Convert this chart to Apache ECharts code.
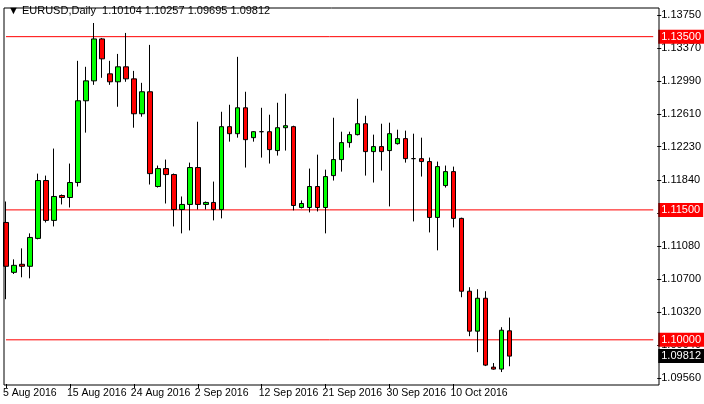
<!DOCTYPE html>
<html><head><meta charset="utf-8">
<script src="https://cdn.jsdelivr.net/npm/echarts@6/dist/echarts.min.js"></script>
<style>html,body{margin:0;padding:0;background:#fff}#c{width:704px;height:404px}</style>
</head><body><div id="c"></div>
<script>
const dates = ['5 Aug 2016','7 Aug','8 Aug','9 Aug','10 Aug','11 Aug','12 Aug','14 Aug',
'15 Aug 2016','16 Aug','17 Aug','18 Aug','19 Aug','21 Aug','22 Aug','23 Aug',
'24 Aug 2016','25 Aug','26 Aug','28 Aug','29 Aug','30 Aug','31 Aug','1 Sep',
'2 Sep 2016','4 Sep','5 Sep','6 Sep','7 Sep','8 Sep','9 Sep','11 Sep',
'12 Sep 2016','13 Sep','14 Sep','15 Sep','16 Sep','18 Sep','19 Sep','20 Sep',
'21 Sep 2016','22 Sep','23 Sep','25 Sep','26 Sep','27 Sep','28 Sep','29 Sep',
'30 Sep 2016','2 Oct','3 Oct','4 Oct','5 Oct','6 Oct','7 Oct','9 Oct',
'10 Oct 2016','11 Oct','12 Oct','13 Oct','14 Oct','16 Oct','17 Oct','18 Oct'];
const labelIdx = [0,8,16,24,32,40,48,56];
// [open, close, low, high]
const ohlc = [
[1.11355,1.10849,1.10469,1.11597],[1.10779,1.10860,1.10760,1.10929],[1.10872,1.10849,1.10722,1.11056],[1.10849,1.11182,1.10710,1.11229],
[1.11171,1.11839,1.11160,1.11919],[1.11839,1.11379,1.11355,1.11896],[1.11379,1.11655,1.11309,1.12208],[1.11666,1.11643,1.11563,1.11678],
[1.11643,1.11816,1.11528,1.12035],[1.11816,1.12760,1.11770,1.13221],[1.12760,1.12990,1.12392,1.13152],[1.12990,1.13474,1.12944,1.13658],
[1.13474,1.13244,1.13025,1.13485],[1.13071,1.12979,1.12944,1.13221],[1.12979,1.13152,1.12691,1.13301],[1.13152,1.13013,1.12979,1.13543],
[1.13013,1.12610,1.12449,1.13105],[1.12610,1.12864,1.12576,1.12967],[1.12864,1.11919,1.11793,1.13405],[1.11770,1.11977,1.11758,1.12012],
[1.11977,1.11908,1.11574,1.12081],[1.11908,1.11505,1.11309,1.11920],[1.11505,1.11563,1.11229,1.11655],[1.11563,1.11989,1.11263,1.12046],
[1.11989,1.11563,1.11505,1.12518],[1.11563,1.11586,1.11505,1.11597],[1.11586,1.11505,1.11379,1.11827],[1.11505,1.12461,1.11402,1.12633],
[1.12461,1.12380,1.12288,1.12714],[1.12380,1.12679,1.12334,1.13267],[1.12679,1.12311,1.11989,1.12864],[1.12334,1.12403,1.12288,1.12410],
[1.12403,1.12403,1.12104,1.12679],[1.12403,1.12196,1.12035,1.12599],[1.12185,1.12449,1.12127,1.12737],[1.12449,1.12472,1.12185,1.12841],
[1.12461,1.11551,1.11494,1.12472],[1.11528,1.11574,1.11517,1.11609],[1.11528,1.11770,1.11471,1.11977],[1.11770,1.11528,1.11482,1.12138],
[1.11528,1.11885,1.11229,1.11965],[1.11896,1.12081,1.11839,1.12564],[1.12081,1.12277,1.11942,1.12403],[1.12277,1.12369,1.12219,1.12403],
[1.12369,1.12495,1.12360,1.12783],[1.12495,1.12173,1.11896,1.12587],[1.12173,1.12231,1.11816,1.12369],[1.12231,1.12173,1.11954,1.12495],
[1.12185,1.12380,1.11540,1.12507],[1.12265,1.12323,1.12254,1.12426],[1.12323,1.12092,1.12046,1.12415],[1.12092,1.12092,1.11367,1.12380],
[1.12092,1.12058,1.11885,1.12334],[1.12058,1.11413,1.11240,1.12104],[1.11413,1.12000,1.11033,1.12058],[1.11781,1.11942,1.11758,1.12012],
[1.11942,1.11402,1.11298,1.12000],[1.11402,1.10561,1.10492,1.11410],[1.10561,1.10100,1.10042,1.10607],[1.10100,1.10480,1.09858,1.10584],
[1.10480,1.09708,1.09697,1.10561],[1.09685,1.09662,1.09655,1.09732],[1.09662,1.10111,1.09628,1.10146],[1.10104,1.09812,1.09695,1.10257]];
const yTicks = [1.09560,1.09940,1.10320,1.10700,1.11080,1.11460,1.11840,1.12230,1.12610,1.12990,1.13370,1.13750];
const levels = [1.13500,1.11500,1.10000];
const lastPrice = 1.09812;
const title = '\u25BC EURUSD,Daily  1.10104 1.10257 1.09695 1.09812';

const cats = dates.slice();
while (cats.length < 82) cats.push('');
const font = '"Liberation Sans", Arial, sans-serif';
const lastIdx = cats.length - 1;
function hLine(v, lineColor, bg, op) {
  return {type:'line',data:[[0,v],[lastIdx,v]],symbol:'none',silent:true,z:3,
    lineStyle:{color:lineColor,width:1,opacity:op},
    endLabel:{show:true,formatter:v.toFixed(5),color:'#fff',backgroundColor:bg,
      padding:[2,3,1,3],fontSize:11,fontFamily:font,distance:5}};
}
const chart = echarts.init(document.getElementById('c'));
chart.setOption({
  animation:false,
  backgroundColor:'#fff',
  grid:{left:1,right:45,top:8,bottom:20},
  xAxis:{type:'category',data:cats,boundaryGap:true,
    axisLine:{show:false},
    axisTick:{show:true,alignWithLabel:true,length:4,lineStyle:{color:'#000'},interval:(i)=>labelIdx.includes(i)},
    axisLabel:{interval:(i)=>labelIdx.includes(i),align:'left',margin:4,color:'#000',fontSize:10.5,fontFamily:font,padding:[0,0,0,-3]},
    splitLine:{show:false}},
  yAxis:{type:'value',position:'right',min:1.0949,max:1.13831,
    axisLine:{show:false},
    axisTick:{show:true,length:4,lineStyle:{color:'#000'},customValues:yTicks},
    axisLabel:{customValues:yTicks,formatter:v=>v.toFixed(5),color:'#000',fontSize:11,fontFamily:font,margin:4},
    splitLine:{show:false}},
  graphic:[
    {type:'rect',shape:{x:4,y:8,width:655,height:377},style:{fill:'none',stroke:'#000',lineWidth:1},z:100,silent:true},
    {type:'text',left:8,top:5,style:{text:title,fill:'#000',font:'11px '+font},z:101}
  ],
  series:[
    {type:'candlestick',data:ohlc,barWidth:5,z:5,
      itemStyle:{color:'#00ff00',color0:'#ff0000',borderColor:'#000',borderColor0:'#000',borderWidth:1}}
  ].concat(levels.map(v=>hLine(v,'#ff0000','#ff0000',1)))
   .concat([hLine(lastPrice,'#000','#000',0)])
});
</script></body></html>
